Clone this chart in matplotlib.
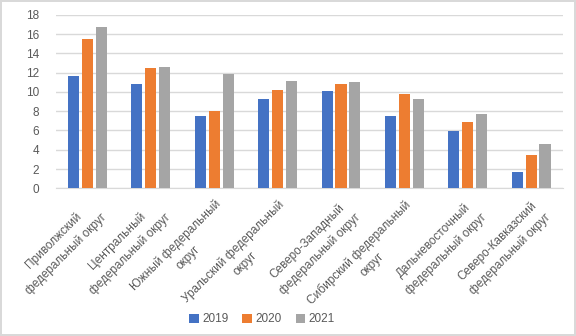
import matplotlib.pyplot as plt
import numpy as np

# data
districts = ["Приволжский\nфедеральный округ", "Центральный\nфедеральный округ",
             "Южный федеральный\nокруг", "Уральский федеральный\nокруг",
             "Северо-Западный\nфедеральный округ", "Сибирский федеральный\nокруг",
             "Дальневосточный\nфедеральный округ", "Северо-Кавказский\nфедеральный округ"]
years = ["2019", "2020", "2021"]
v2019 = [11.65, 10.8, 7.5, 9.26, 10.09, 7.5, 5.94, 1.69]
v2020 = [15.5, 12.47, 8.0, 10.2, 10.82, 9.78, 6.88, 3.45]
v2021 = [16.73, 12.58, 11.85, 11.13, 11.03, 9.26, 7.7, 4.59]
colors = ["#4472C4", "#ED7D31", "#A5A5A5"]

plt.rcParams['font.family'] = ['Liberation Sans', 'DejaVu Sans']

fig = plt.figure(figsize=(5.76, 3.36), dpi=100)
fig.patch.set_edgecolor("#D9D9D9")
fig.patch.set_linewidth(1.5)
ax = fig.add_axes([0.097, 0.4396, 0.88, 0.5164])

x = np.arange(len(districts))
w = 0.174
step = 0.22
for i, (vals, yr) in enumerate(zip([v2019, v2020, v2021], years)):
    ax.bar(x + (i - 1) * step, vals, width=w, color=colors[i], label=yr, zorder=3)

ax.set_xlim(-0.5, len(districts) - 0.5)
ax.set_ylim(0, 18)
ax.set_yticks(range(0, 19, 2))
ax.grid(axis='y', color="#D9D9D9", linewidth=1, zorder=0)
for s in ["top", "right", "left"]:
    ax.spines[s].set_visible(False)
ax.spines["bottom"].set_color("#D9D9D9")
ax.tick_params(axis='both', length=0, colors="#595959", labelsize=8.5)
ax.tick_params(axis='y', pad=12)
ax.tick_params(axis='x', pad=7)
ax.set_xticks(x)
ax.set_xticklabels(districts, rotation=45, ha='right', rotation_mode='anchor',
                   multialignment='center', linespacing=1.6, fontsize=8.5)
for lbl in ax.get_xticklabels():
    lbl.set_x(lbl.get_position()[0])

fig.legend(loc='lower center', bbox_to_anchor=(0.455, 0.0), ncol=3, frameon=False,
           fontsize=8.5, handlelength=0.8, handleheight=0.8, handletextpad=0.3,
           columnspacing=1.2, labelcolor="#595959")

fig.savefig("out.png", dpi=100)
